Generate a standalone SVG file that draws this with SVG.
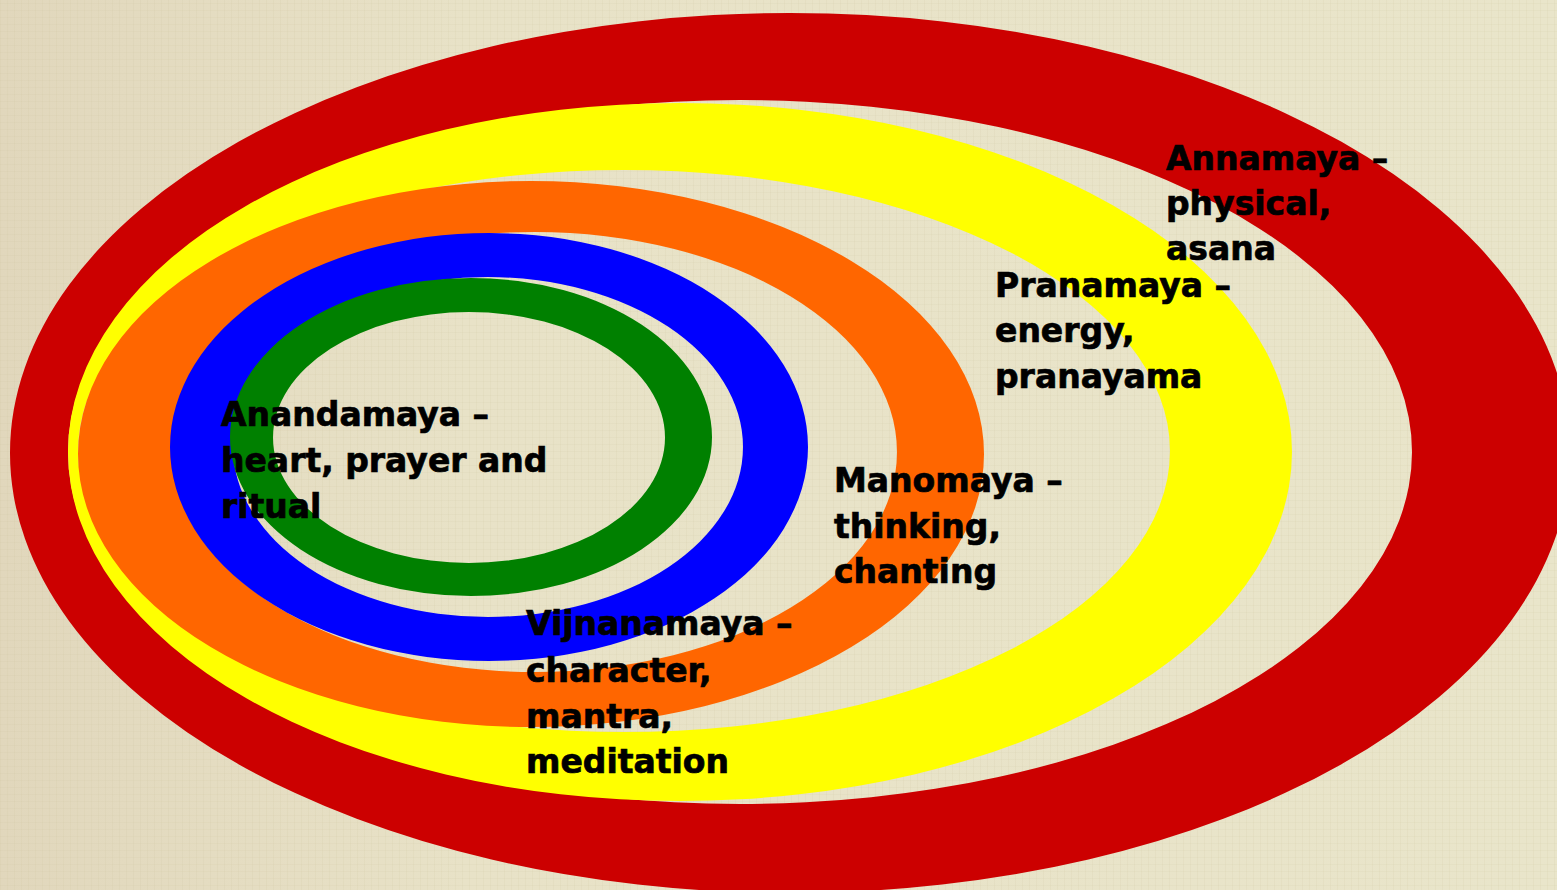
<svg xmlns="http://www.w3.org/2000/svg" width="1557" height="890" viewBox="0 0 1557 890">
  <defs>
    <linearGradient id="bg" x1="0" y1="0" x2="1" y2="0">
      <stop offset="0" stop-color="#E1D7BC"/>
      <stop offset="0.3" stop-color="#E8E2C7"/>
      <stop offset="1" stop-color="#E9E5CA"/>
    </linearGradient>
    <pattern id="linen" width="7" height="7" patternUnits="userSpaceOnUse">
      <rect x="0" y="0" width="1" height="7" fill="#C8BC98" opacity="0.12"/>
      <rect x="0" y="3" width="7" height="1" fill="#C8BC98" opacity="0.10"/>
    </pattern>
    <style>
      .ring { fill-rule: evenodd; stroke: none; }
      .lbl { font-family: "DejaVu Sans", Verdana, sans-serif; font-weight: bold; font-size: 33px; fill: #000000; stroke: #000000; stroke-width: 0.7px; }
    </style>
  </defs>

  <rect x="0" y="0" width="1557" height="890" fill="url(#bg)"/>
  <rect x="0" y="0" width="1557" height="890" fill="url(#linen)"/>

  <g id="ring-annamaya">
    <path class="ring" fill="#CC0000" d="M 10 453 A 780 440 0 1 0 1570 453 A 780 440 0 1 0 10 453 Z M 68 452 A 672 352 0 1 0 1412 452 A 672 352 0 1 0 68 452 Z"/>
  </g>
  <g id="ring-pranamaya">
    <path class="ring" fill="#FFFF00" d="M 68 452 A 612 349 0 1 0 1292 452 A 612 349 0 1 0 68 452 Z M 78 451 A 546 281 0 1 0 1170 451 A 546 281 0 1 0 78 451 Z"/>
  </g>
  <g id="ring-manomaya">
    <path class="ring" fill="#FF6600" d="M 78 454 A 453 273 0 1 0 984 454 A 453 273 0 1 0 78 454 Z M 172 452 A 362.5 220 0 1 0 897 452 A 362.5 220 0 1 0 172 452 Z"/>
  </g>
  <g id="ring-vijnanamaya">
    <path class="ring" fill="#0000FF" d="M 170 447 A 319 214 0 1 0 808 447 A 319 214 0 1 0 170 447 Z M 233 447 A 255 170 0 1 0 743 447 A 255 170 0 1 0 233 447 Z"/>
  </g>
  <g id="ring-anandamaya">
    <path class="ring" fill="#008000" d="M 230 437 A 241 159 0 1 0 712 437 A 241 159 0 1 0 230 437 Z M 273 437.5 A 196 125.5 0 1 0 665 437.5 A 196 125.5 0 1 0 273 437.5 Z"/>
  </g>

  <g id="label-annamaya">
    <text class="lbl" x="1166" y="170">Annamaya –</text>
    <text class="lbl" x="1166" y="215">physical,</text>
    <text class="lbl" x="1166" y="260">asana</text>
  </g>
  <g id="label-pranamaya">
    <text class="lbl" x="995" y="297">Pranamaya –</text>
    <text class="lbl" x="995" y="342">energy,</text>
    <text class="lbl" x="995" y="388">pranayama</text>
  </g>
  <g id="label-manomaya">
    <text class="lbl" x="834" y="492">Manomaya –</text>
    <text class="lbl" x="834" y="538">thinking,</text>
    <text class="lbl" x="834" y="583">chanting</text>
  </g>
  <g id="label-anandamaya">
    <text class="lbl" x="221" y="426">Anandamaya –</text>
    <text class="lbl" x="221" y="472">heart, prayer and</text>
    <text class="lbl" x="221" y="518">ritual</text>
  </g>
  <g id="label-vijnanamaya">
    <text class="lbl" x="526" y="635">Vijnanamaya –</text>
    <text class="lbl" x="526" y="682">character,</text>
    <text class="lbl" x="526" y="728">mantra,</text>
    <text class="lbl" x="526" y="773">meditation</text>
  </g>

  <g id="connectors"></g>
</svg>
